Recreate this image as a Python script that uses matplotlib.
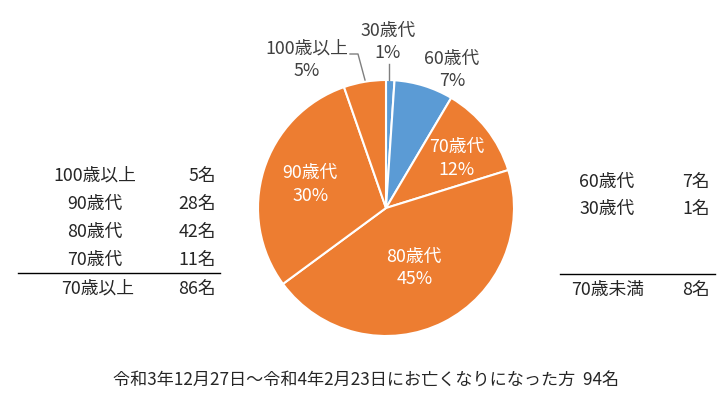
import numpy as np
import matplotlib.pyplot as plt

plt.rcParams['font.family'] = ['Noto Sans CJK JP', 'DejaVu Sans']

# データ（時計回り、上から）
年代 = ['30歳代', '60歳代', '70歳代', '80歳代', '90歳代', '100歳以上']
人数 = [1, 7, 11, 42, 28, 5]
割合 = [1, 7, 12, 45, 30, 5]
色 = ['#5B9BD5', '#5B9BD5', '#ED7D31', '#ED7D31', '#ED7D31', '#ED7D31']

左_ラベル = ['100歳以上', '90歳代', '80歳代', '70歳代']
左_人数 = [5, 28, 42, 11]
左_合計ラベル = '70歳以上'
左_合計 = 86

右_ラベル = ['60歳代', '30歳代']
右_人数 = [7, 1]
右_合計ラベル = '70歳未満'
右_合計 = 8

総数 = 94
期間 = '令和3年12月27日～令和4年2月23日にお亡くなりになった方'

W, H = 728, 397
文字色 = '#404040'
表色 = '#262626'
fs = 12.8


def Y(y):
    # 画像のピクセル座標（上から）を軸座標に変換
    return H - y


fig = plt.figure(figsize=(W / 100, H / 100), dpi=100)
ax = fig.add_axes([0, 0, 1, 1])

cx, cy, r = 386, Y(208), 128
wedges, _ = ax.pie(人数, colors=色, startangle=90, counterclock=False,
                   center=(cx, cy), radius=r,
                   wedgeprops=dict(edgecolor='white', linewidth=1.5))

# 内側のラベル（半径の割合, 縦方向の微調整）
内側 = {2: (0.70, -6), 3: (0.49, -4), 4: (0.62, 0)}
for i, (f, dy) in 内側.items():
    w = wedges[i]
    th = np.deg2rad((w.theta1 + w.theta2) / 2)
    ax.text(cx + f * r * np.cos(th), cy + f * r * np.sin(th) + dy,
            f'{年代[i]}\n{割合[i]}%', ha='center', va='center',
            color='white', fontsize=fs, linespacing=1.3)

# 外側のラベル
外側 = {0: (388, 42), 1: (452, 70), 5: (307, 60)}
for i, (x, y) in 外側.items():
    ax.text(x, Y(y), f'{年代[i]}\n{割合[i]}%', ha='center', va='center',
            color=文字色, fontsize=fs, linespacing=1.3)

# 引き出し線
ax.plot([389, 389], [Y(80), Y(64)], color='#7f7f7f', lw=1)
ax.plot([365, 358, 350], [Y(80), Y(54), Y(54)], color='#7f7f7f', lw=1)

# 左の表
for k, (lab, n) in enumerate(zip(左_ラベル, 左_人数)):
    y = 176 + k * 28
    ax.text(95, Y(y), lab, ha='center', va='center', fontsize=fs, color=表色)
    ax.text(216, Y(y), f'{n}名', ha='right', va='center', fontsize=fs, color=表色)
ax.plot([18, 220], [Y(273), Y(273)], color='black', lw=1)
ax.text(98, Y(289), 左_合計ラベル, ha='center', va='center', fontsize=fs, color=表色)
ax.text(216, Y(289), f'{左_合計}名', ha='right', va='center', fontsize=fs, color=表色)

# 右の表
for k, (lab, n) in enumerate(zip(右_ラベル, 右_人数)):
    y = 182 + k * 27
    ax.text(607, Y(y), lab, ha='center', va='center', fontsize=fs, color=表色)
    ax.text(710, Y(y), f'{n}名', ha='right', va='center', fontsize=fs, color=表色)
ax.plot([560, 715], [Y(274), Y(274)], color='black', lw=1)
ax.text(608, Y(290), 右_合計ラベル, ha='center', va='center', fontsize=fs, color=表色)
ax.text(710, Y(290), f'{右_合計}名', ha='right', va='center', fontsize=fs, color=表色)

# 下の説明
ax.text(366, Y(380), f'{期間}  {総数}名', ha='center', va='center',
        fontsize=12.3, color=表色)

ax.set_xlim(0, W)
ax.set_ylim(0, H)
ax.set_aspect('equal')
ax.axis('off')

fig.savefig('out.png', dpi=100)
